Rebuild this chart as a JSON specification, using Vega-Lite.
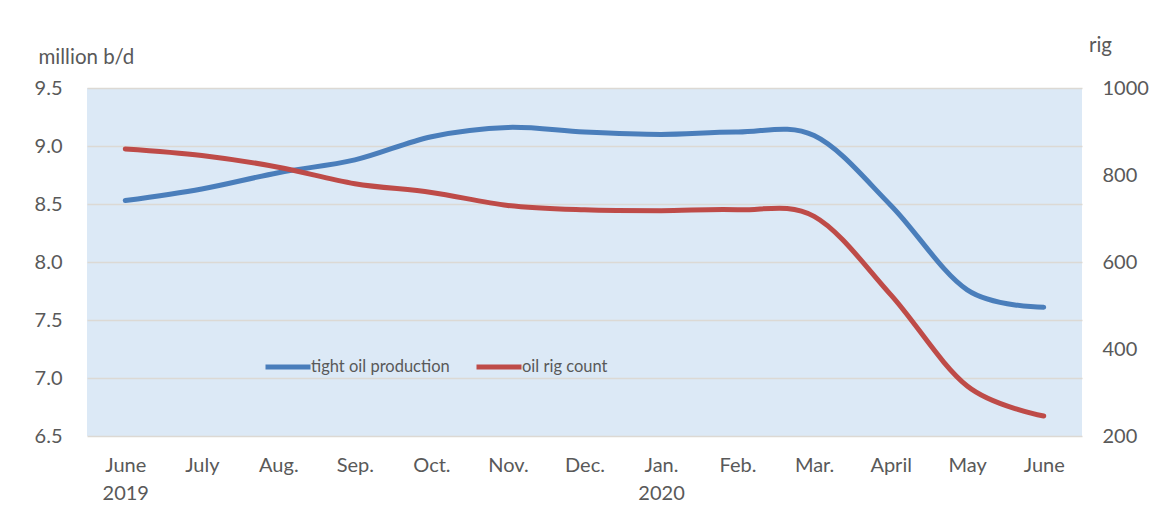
{
  "$schema": "https://vega.github.io/schema/vega-lite/v6.json",
  "autosize": {"type": "none"},
  "padding": {"left": 87, "top": 88, "right": 90, "bottom": 87},
  "width": 995,
  "height": 348,
  "background": "white",
  "config": {
    "font": "Lato",
    "view": {"fill": "#dce9f6", "stroke": null},
    "axis": {"labelFont": "Lato", "titleFont": "Lato", "labelColor": "#595959", "titleColor": "#595959", "labelFontSize": 20, "titleFontSize": 20.5, "titleFontWeight": "normal"}
  },
  "data": {
    "values": [
      {"month": "June|2019", "prod": 8.53, "rigs": 860},
      {"month": "July", "prod": 8.63, "rigs": 845},
      {"month": "Aug.", "prod": 8.77, "rigs": 818},
      {"month": "Sep.", "prod": 8.88, "rigs": 780},
      {"month": "Oct.", "prod": 9.08, "rigs": 760},
      {"month": "Nov.", "prod": 9.16, "rigs": 730},
      {"month": "Dec.", "prod": 9.12, "rigs": 720},
      {"month": "Jan.|2020", "prod": 9.1, "rigs": 718},
      {"month": "Feb.", "prod": 9.12, "rigs": 720},
      {"month": "Mar.", "prod": 9.09, "rigs": 705},
      {"month": "April", "prod": 8.49, "rigs": 525},
      {"month": "May", "prod": 7.76, "rigs": 315},
      {"month": "June", "prod": 7.61, "rigs": 246}
    ]
  },
  "encoding": {
    "x": {
      "field": "month", "type": "nominal", "sort": null,
      "scale": {"paddingInner": 0, "paddingOuter": 0.5},
      "axis": {"title": null, "labelAngle": 0, "domain": false, "ticks": false, "labelPadding": 19, "labelExpr": "split(datum.label, '|')", "labelLineHeight": 28, "labelBaseline": "top"}
    }
  },
  "layer": [
    {
      "mark": {"type": "line", "interpolate": "cardinal", "strokeWidth": 5, "strokeCap": "round"},
      "encoding": {
        "y": {
          "field": "prod", "type": "quantitative",
          "scale": {"domain": [6.5, 9.5], "nice": false, "zero": false},
          "axis": {"values": [6.5, 7, 7.5, 8, 8.5, 9, 9.5], "format": ".1f", "domain": false, "ticks": false, "labelPadding": 25, "gridColor": "#dcd9d4", "gridWidth": 1.5, "title": "million b/d", "titleAngle": 0, "titleX": -49, "titleY": -31, "titleAlign": "left", "titleBaseline": "middle"}
        },
        "color": {
          "datum": "tight oil production", "type": "nominal",
          "scale": {"domain": ["tight oil production", "oil rig count"], "range": ["#4a7ebb", "#be4b48"]},
          "legend": {"title": null, "orient": "none", "legendX": 176, "legendY": 254, "direction": "horizontal", "symbolType": "stroke", "symbolSize": 2025, "symbolStrokeWidth": 5, "labelFont": "Lato", "labelFontSize": 16.5, "labelColor": "#595959", "labelOffset": -2, "columnPadding": 16}
        }
      }
    },
    {
      "mark": {"type": "line", "interpolate": "cardinal", "strokeWidth": 5, "strokeCap": "round"},
      "encoding": {
        "y": {
          "field": "rigs", "type": "quantitative",
          "scale": {"domain": [200, 1000], "nice": false, "zero": false},
          "axis": {"orient": "right", "values": [200, 400, 600, 800, 1000], "format": "d", "grid": false, "domain": false, "ticks": false, "labelPadding": 20, "title": "rig", "titleAngle": 0, "titleX": 18, "titleY": -43, "titleAlign": "center", "titleBaseline": "middle"}
        },
        "color": {"datum": "oil rig count", "type": "nominal"}
      }
    }
  ],
  "resolve": {"scale": {"y": "independent"}}
}
